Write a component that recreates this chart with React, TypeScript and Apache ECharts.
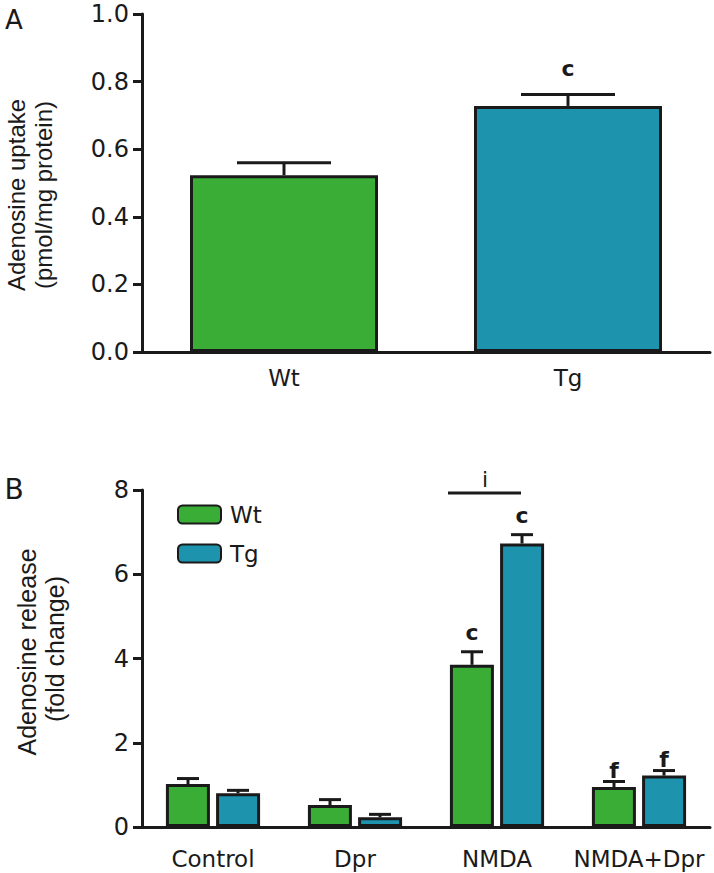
import React, { useEffect, useRef } from 'react';
import * as echarts from 'echarts';

// Panel A: adenosine uptake
const groupsA = ['Wt', 'Tg'];
const uptakeMean = [0.523, 0.728];
const uptakeSem = [0.037, 0.034];
const uptakeSig = ['', 'c'];

// Panel B: adenosine release
const treatments = ['Control', 'Dpr', 'NMDA', 'NMDA+Dpr'];
const wtMean = [1.02, 0.52, 3.85, 0.95];
const wtSem = [0.13, 0.13, 0.31, 0.13];
const tgMean = [0.8, 0.23, 6.73, 1.22];
const tgSem = [0.07, 0.07, 0.21, 0.12];
const wtSig = ['', '', 'c', 'f'];
const tgSig = ['', '', 'c', 'f'];

const GREEN = '#39ad36';
const BLUE = '#1d93ae';
const INK = '#1a1a1a';
const TICK_FONT = 'DejaVu Sans';
const TITLE_FONT = 'Liberation Sans';

function errorSeries(
  name: string,
  axisIndex: number,
  means: number[],
  sems: number[],
  sigs: string[],
  offset: number,
  capHalf: number,
  sigGap: (s: string) => number
) {
  return {
    type: 'custom',
    name,
    xAxisIndex: axisIndex,
    yAxisIndex: axisIndex,
    z: 5,
    silent: true,
    data: means.map((m, i) => [i, m, m + sems[i]]),
    encode: { x: 0, y: [1, 2] },
    renderItem: (params: any, api: any) => {
      const i = api.value(0);
      const base = api.coord([i, api.value(1)]);
      const top = api.coord([i, api.value(2)]);
      const x = base[0] + offset;
      const children: any[] = [
        { type: 'line', shape: { x1: x, y1: base[1], x2: x, y2: top[1] }, style: { stroke: INK, lineWidth: 3 } },
        { type: 'line', shape: { x1: x - capHalf, y1: top[1], x2: x + capHalf, y2: top[1] }, style: { stroke: INK, lineWidth: 3 } },
      ];
      const s = sigs[params.dataIndex];
      if (s) {
        children.push({
          type: 'text',
          x,
          y: top[1] - sigGap(s),
          style: {
            text: s,
            fill: INK,
            font: `bold 22px '${TICK_FONT}'`,
            align: 'center',
            verticalAlign: 'bottom',
          },
        });
      }
      return { type: 'group', children };
    },
  };
}

export default function App() {
  const ref = useRef<HTMLDivElement>(null);
  useEffect(() => {
    if (!ref.current) return;
    const chart = echarts.init(ref.current, undefined, { renderer: 'svg' });
    const axisLineStyle = { lineStyle: { color: INK, width: 3 } };
    const yLabel = { color: INK, fontSize: 24, fontFamily: TICK_FONT, margin: 13 };
    const option: any = {
      animation: false,
      textStyle: { fontFamily: TICK_FONT },
      grid: [
        { left: 142, top: 14, width: 568, height: 338 },
        { left: 142, top: 490, width: 568, height: 337 },
      ],
      xAxis: [
        {
          type: 'category', gridIndex: 0, data: groupsA,
          axisLine: axisLineStyle, axisTick: { show: false },
          axisLabel: { color: INK, fontSize: 23, fontFamily: TICK_FONT, margin: 14 },
        },
        {
          type: 'category', gridIndex: 1, data: treatments,
          axisLine: axisLineStyle, axisTick: { show: false },
          axisLabel: { color: INK, fontSize: 23, fontFamily: TICK_FONT, margin: 20, interval: 0 },
        },
      ],
      yAxis: [
        {
          type: 'value', gridIndex: 0, min: 0, max: 1, interval: 0.2,
          axisLine: { show: true, ...axisLineStyle },
          axisTick: { show: true, length: 9, lineStyle: { color: INK, width: 3 } },
          splitLine: { show: false },
          axisLabel: { ...yLabel, formatter: (v: number) => v.toFixed(1) },
        },
        {
          type: 'value', gridIndex: 1, min: 0, max: 8, interval: 2,
          axisLine: { show: true, ...axisLineStyle },
          axisTick: { show: true, length: 9, lineStyle: { color: INK, width: 3 } },
          splitLine: { show: false },
          axisLabel: yLabel,
        },
      ],
      legend: {
        data: ['Wt', 'Tg'],
        orient: 'vertical',
        left: 172,
        top: 498,
        itemWidth: 43,
        itemHeight: 18,
        itemGap: 16,
        icon: 'roundRect',
        textStyle: { color: INK, fontSize: 23, fontFamily: TICK_FONT, padding: [0, 0, 0, 4] },
      },
      series: [
        {
          type: 'bar', name: 'uptake', xAxisIndex: 0, yAxisIndex: 0,
          barWidth: 188,
          data: uptakeMean.map((v, i) => ({ value: v, itemStyle: { color: i === 0 ? GREEN : BLUE } })),
          itemStyle: { borderColor: INK, borderWidth: 3 },
        },
        errorSeries('uptake err', 0, uptakeMean, uptakeSem, uptakeSig, 0, 47, () => 15),
        {
          type: 'bar', name: 'Wt', xAxisIndex: 1, yAxisIndex: 1,
          barWidth: 44, barGap: '14%',
          data: wtMean,
          itemStyle: { color: GREEN, borderColor: INK, borderWidth: 3 },
        },
        {
          type: 'bar', name: 'Tg', xAxisIndex: 1, yAxisIndex: 1,
          barWidth: 44, barGap: '14%',
          data: tgMean,
          itemStyle: { color: BLUE, borderColor: INK, borderWidth: 3 },
        },
        errorSeries('Wt err', 1, wtMean, wtSem, wtSig, -25, 11, (s) => (s === 'f' ? 0 : 8)),
        errorSeries('Tg err', 1, tgMean, tgSem, tgSig, 25, 11, (s) => (s === 'f' ? 0 : 8)),
      ],
      graphic: [
        { type: 'text', x: 14, y: 20, style: { text: 'A', fill: INK, font: `26px '${TICK_FONT}'`, align: 'center', verticalAlign: 'middle' } },
        { type: 'text', x: 14, y: 489, style: { text: 'B', fill: INK, font: `28px '${TICK_FONT}'`, align: 'center', verticalAlign: 'middle' } },
        { type: 'text', x: 16, y: 195, rotation: Math.PI / 2, style: { text: 'Adenosine uptake', fill: INK, font: `24px '${TITLE_FONT}'`, align: 'center', verticalAlign: 'middle' } },
        { type: 'text', x: 43, y: 195, rotation: Math.PI / 2, style: { text: '(pmol/mg protein)', fill: INK, font: `24px '${TITLE_FONT}'`, align: 'center', verticalAlign: 'middle' } },
        { type: 'text', x: 27, y: 652, rotation: Math.PI / 2, style: { text: 'Adenosine release', fill: INK, font: `25px '${TITLE_FONT}'`, align: 'center', verticalAlign: 'middle' } },
        { type: 'text', x: 55, y: 649, rotation: Math.PI / 2, style: { text: '(fold change)', fill: INK, font: `25px '${TITLE_FONT}'`, align: 'center', verticalAlign: 'middle' } },
        { type: 'line', shape: { x1: 448, y1: 493, x2: 521, y2: 493 }, style: { stroke: INK, lineWidth: 3 } },
        { type: 'text', x: 485, y: 490, style: { text: 'i', fill: INK, font: `22px '${TICK_FONT}'`, align: 'center', verticalAlign: 'bottom' } },
      ],
    };
    chart.setOption(option);
    return () => chart.dispose();
  }, []);
  return <div ref={ref} style={{ position: 'absolute', left: 0, top: 0, width: 714, height: 873 }} />;
}
